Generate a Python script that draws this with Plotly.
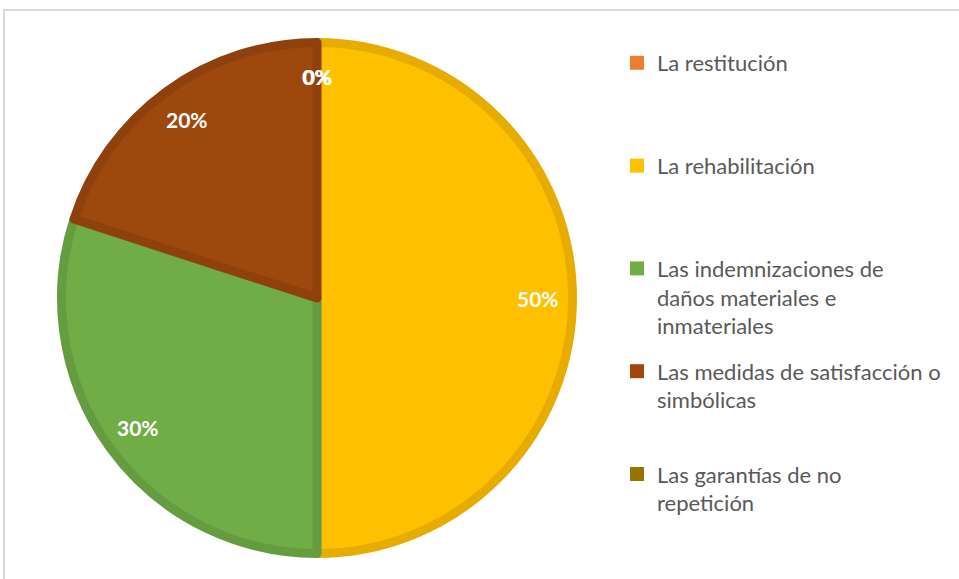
import math
import plotly.graph_objects as go

# ---- data ----
categories = [
    "La restitución",
    "La rehabilitación",
    "Las indemnizaciones de daños materiales e inmateriales",
    "Las medidas de satisfacción o simbólicas",
    "Las garantías de no repetición",
]
legend_lines = [
    ["La restitución"],
    ["La rehabilitación"],
    ["Las indemnizaciones de", "daños materiales e", "inmateriales"],
    ["Las medidas de satisfacción o", "simbólicas"],
    ["Las garantías de no", "repetición"],
]
values = [0, 50, 30, 20, 0]

# ---- style ----
fill_colors = ["#ED7D31", "#FFC000", "#70AD47", "#9E480E", "#997300"]
edge_colors = ["#D56F2C", "#E6AD00", "#659C40", "#8E410D", "#8A6800"]
W, H = 959, 579
cx_px, cy_px, R_px = 317, 298, 260
LW = 9
r_in = R_px - LW / 2
LEG_FONT = 22

fig = go.Figure()
fig.add_trace(go.Pie(
    labels=categories,
    values=values,
    sort=False,
    direction="clockwise",
    rotation=0,
    textinfo="none",
    hoverinfo="label+percent",
    marker=dict(colors=fill_colors,
                line=dict(color=edge_colors,
                          width=[LW if v > 0 else 0 for v in values])),
    domain=dict(x=[(cx_px - r_in) / W, (cx_px + r_in) / W],
                y=[1 - (cy_px + r_in) / H, 1 - (cy_px - r_in) / H]),
    showlegend=False,
))

# legend entries (one group per category so spacing can be controlled)
for i, (lines, col) in enumerate(zip(legend_lines, fill_colors)):
    pad = max(0, 3 - len(lines)) if i < len(legend_lines) - 1 else 0
    name = "<br>".join(lines + ["&nbsp;"] * pad)
    fig.add_trace(go.Scatter(
        x=[None], y=[None], mode="markers", name=name,
        legendgroup=f"g{i}",
        marker=dict(symbol="square", size=14, color=col),
        hoverinfo="skip",
    ))

# data labels, positioned from the slice angles
total = sum(values)
cum = 0
for v in values:
    mid = (cum + v / 2) / total * 2 * math.pi
    cum += v
    rr = 0.85 * R_px
    x = cx_px + rr * math.sin(mid)
    y = cy_px - rr * math.cos(mid)
    fig.add_annotation(
        x=x / W, y=1 - y / H, xref="paper", yref="paper",
        text=f"{round(v / total * 100)}%", showarrow=False,
        font=dict(family="Lato", size=21, color="white", weight="bold"),
        xanchor="center", yanchor="middle",
    )

fig.add_shape(type="rect", xref="paper", yref="paper",
              x0=4 / W, x1=1.05, y0=-0.05, y1=1 - 10 / H,
              line=dict(color="#D9D9D9", width=2), fillcolor="rgba(0,0,0,0)")

fig.update_layout(
    width=W, height=H,
    margin=dict(l=0, r=0, t=0, b=0, autoexpand=False),
    paper_bgcolor="white",
    plot_bgcolor="white",
    xaxis=dict(visible=False),
    yaxis=dict(visible=False),
    legend=dict(
        x=617 / W, y=1 - 42 / H, xanchor="left", yanchor="top",
        valign="top",
        tracegroupgap=14,
        traceorder="grouped",
        font=dict(family="Lato", size=LEG_FONT, color="#595959"),
        bgcolor="rgba(0,0,0,0)",
        itemclick=False, itemdoubleclick=False,
    ),
)

fig.write_html("out.html",
               config={"displayModeBar": False},
               post_script="document.body.style.margin='0';document.body.style.overflow='hidden';")
